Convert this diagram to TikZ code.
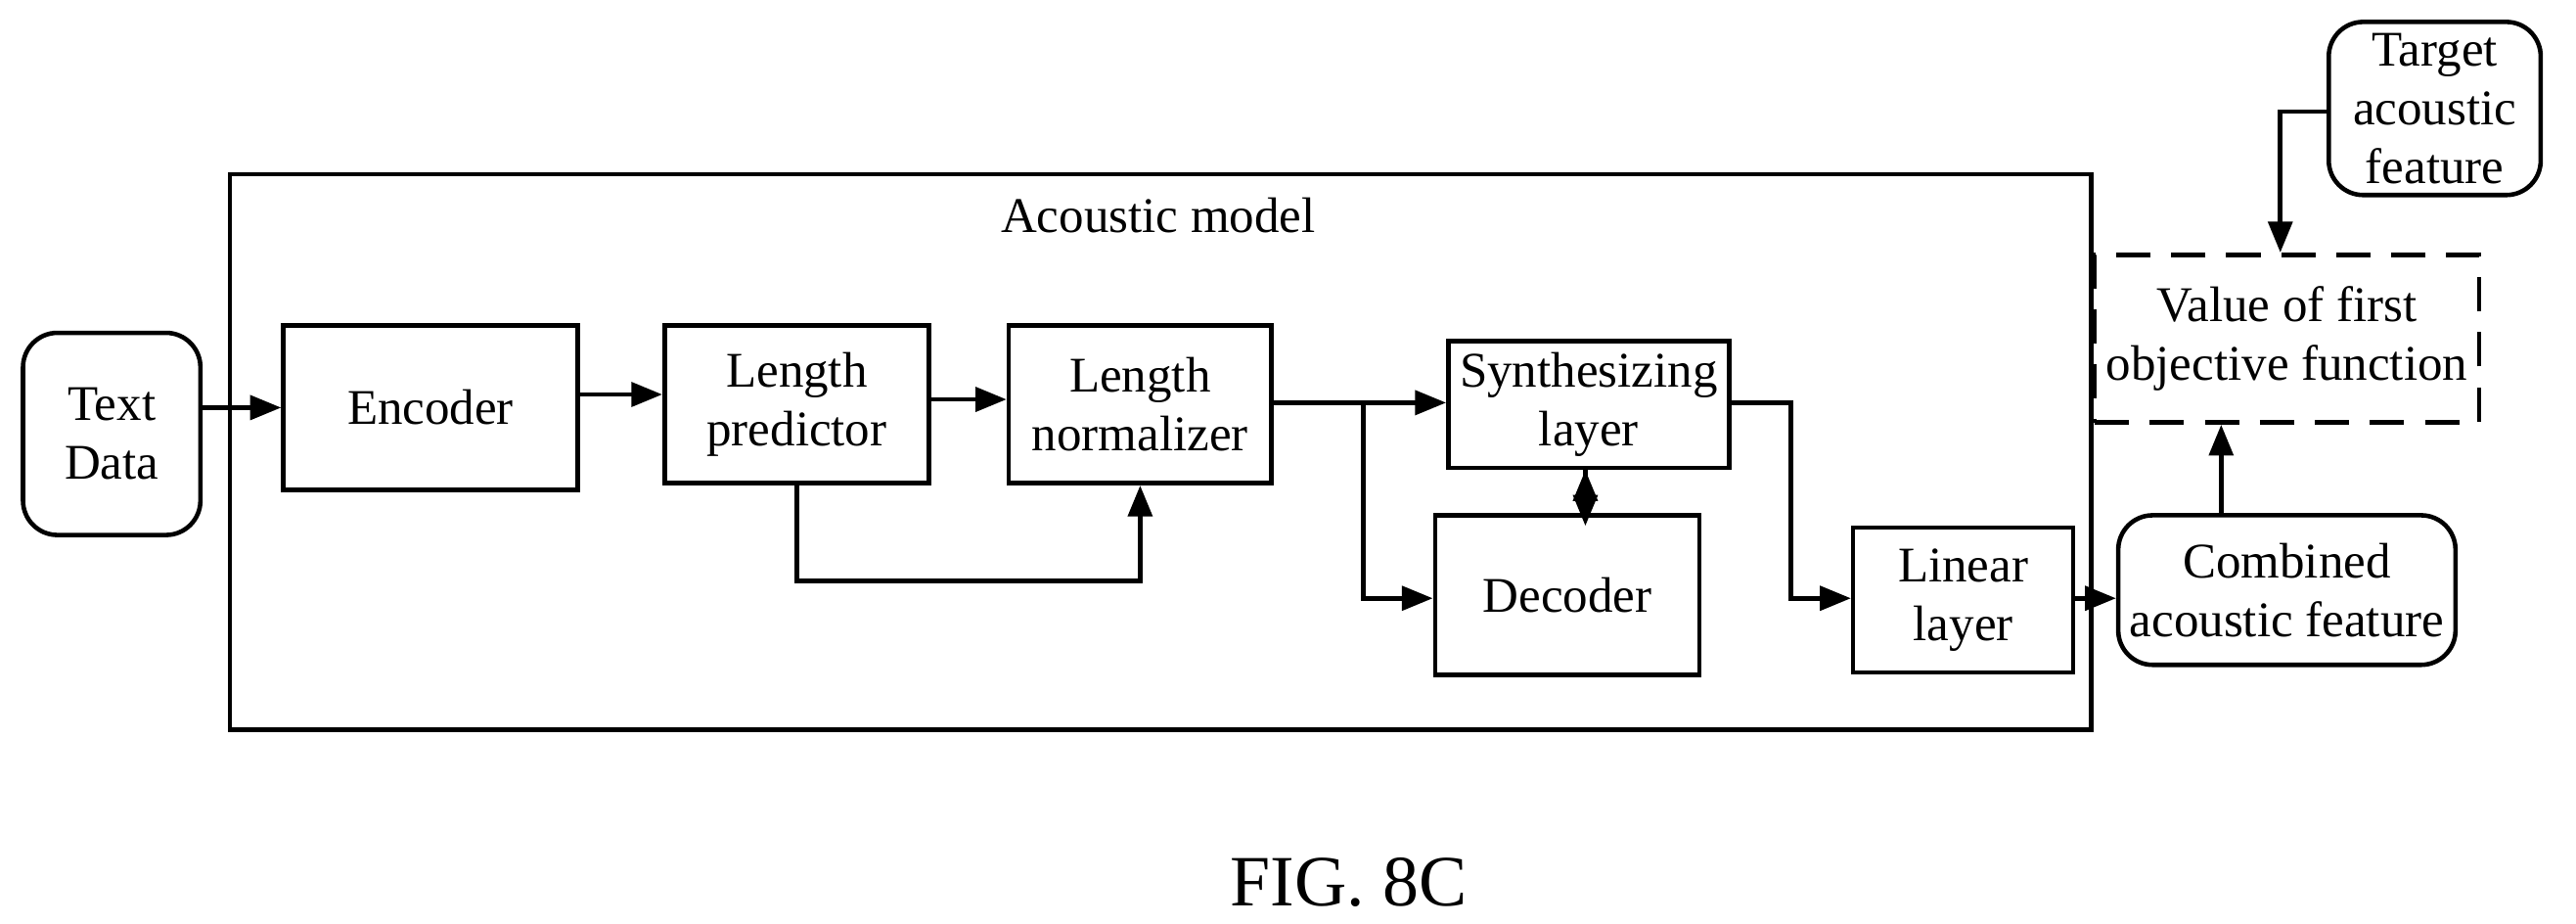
\documentclass[tikz,border=0pt]{standalone}
\usepackage{fontspec}
\setmainfont{Liberation Serif}
\usetikzlibrary{arrows.meta}
\begin{document}
\begin{tikzpicture}[x=0.01679cm,y=-0.01679cm,
  box/.style={draw,line width=1.3pt,align=center,font=\fontsize{14.5}{17}\selectfont},
  rbox/.style={box,rounded corners=10pt},
  arr/.style={line width=1.3pt,-{Triangle[length=9pt,width=7pt]}},
  ln/.style={line width=1.3pt}]
\useasboundingbox (0,0) rectangle (1568,562);
\node[rbox,minimum width=108*0.01679cm,minimum height=123*0.01679cm] (td) at (68,264) {Text\\Data};
\draw[line width=1.3pt] (140,106) rectangle (1273,444);
\node[font=\fontsize{14.5}{17}\selectfont] (am) at (705,131) {Acoustic model};
\node[box,minimum width=179*0.01679cm,minimum height=100*0.01679cm] (enc) at (262,248) {Encoder};
\node[box,minimum width=161*0.01679cm,minimum height=96*0.01679cm] (lp) at (485,246) {Length\\predictor};
\node[box,minimum width=160*0.01679cm,minimum height=96*0.01679cm] (lnorm) at (694,246) {Length\\normalizer};
\node[box,minimum width=166*0.01679cm,minimum height=68*0.01679cm] (syn) at (967,246) {Synthesizing\\layer};
\node[box,minimum width=161*0.01679cm,minimum height=97*0.01679cm] (dec) at (954,362) {Decoder};
\node[box,minimum width=134*0.01679cm,minimum height=88*0.01679cm] (lin) at (1195,365) {Linear\\layer};
\node[rbox,minimum width=195*0.01679cm,minimum height=91*0.01679cm] (comb) at (1392,359) {Combined\\acoustic feature};
\node[box,dashed,dash pattern=on 10pt off 6pt,minimum width=218*0.01679cm,minimum height=102*0.01679cm] (val) at (1392,206) {Value of first\\objective function};
\node[rbox,minimum width=129*0.01679cm,minimum height=105*0.01679cm] (tgt) at (1482,66) {Target\\acoustic\\feature};
\node[font=\fontsize{21}{24}\selectfont] (fig) at (821,537) {FIG. 8C};
\coordinate (j1) at (830,245);
\draw[arr] (td.east |- 0,248) -- (enc.west |- 0,248);
\draw[arr] (enc.east |- 0,240) -- (lp.west |- 0,240);
\draw[arr] (lp.east |- 0,243) -- (lnorm.west |- 0,243);
\draw[arr] (lp.south) -- ++(0,58) -| (lnorm.south);
\draw[ln] (lnorm.east |- j1) -- (j1);
\draw[arr] (j1) -- (syn.west |- j1);
\draw[arr] (j1) |- (dec.west |- 0,364);
\draw[arr] (syn.south -| 965,0) -- ++(0,34) coordinate (dt) ; 
\draw[arr] (dec.north -| 965,0) -- (syn.south -| 965,0);
\draw[arr] (syn.east |- j1) -- (1090,245) |- (lin.west |- 0,364);
\draw[arr] (lin.east |- 0,364) -- (comb.west |- 0,364);
\draw[arr] (comb.north -| 1352,0) -- (val.south -| 1352,0);
\draw[arr] (tgt.west |- 0,68) -- (1388,68) -- (val.north -| 1388,0);
\end{tikzpicture}
\end{document}
